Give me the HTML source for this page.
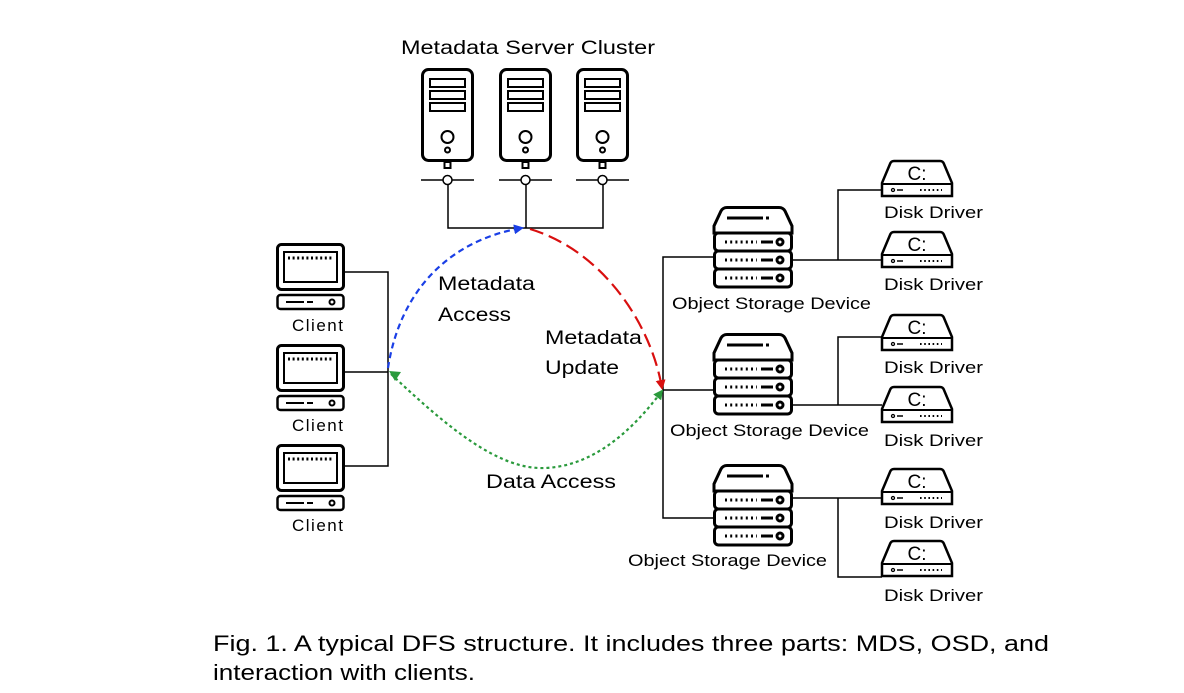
<!DOCTYPE html>
<html><head><meta charset="utf-8"><style>
body{margin:0;background:#fff;}
svg{display:block;font-family:"Liberation Sans",sans-serif;}
</style></head><body>
<svg width="1184" height="693" viewBox="0 0 1184 693" xmlns="http://www.w3.org/2000/svg">
<defs>
<g id="srv" fill="none" stroke="#000">
<rect x="1.5" y="1.5" width="50" height="91" rx="6" stroke-width="3"/>
<rect x="9" y="11" width="35" height="8" stroke-width="2"/>
<rect x="9" y="23" width="35" height="8" stroke-width="2"/>
<rect x="9" y="35" width="35" height="8" stroke-width="2"/>
<circle cx="26.5" cy="69" r="6" stroke-width="2"/>
<circle cx="26.5" cy="82" r="2.5" stroke-width="2"/>
<rect x="23.5" y="94" width="6" height="6" stroke-width="2"/>
<line x1="0" y1="112" x2="53" y2="112" stroke-width="1.5"/>
<circle cx="26.5" cy="112" r="4.5" fill="#fff" stroke-width="1.5"/>
</g>
<g id="cli" fill="none" stroke="#000">
<rect x="1.5" y="1.5" width="66" height="45" rx="4" stroke-width="3"/>
<rect x="8" y="9" width="53" height="30" stroke-width="2"/>
<line x1="12" y1="15" x2="58" y2="15" stroke-width="3" stroke-dasharray="2,2.6"/>
<rect x="1.5" y="52" width="66" height="14" rx="3" stroke-width="2.5"/>
<line x1="10" y1="59" x2="40" y2="59" stroke-width="2" stroke-dasharray="18,3,6,3"/>
<circle cx="56" cy="59" r="2.5" stroke-width="2"/>
</g>
<g id="osd" fill="none" stroke="#000">
<path d="M14,1.5 H66 Q70,1.5 72,5 L79,20 V27 H1 V20 L8,5 Q10,1.5 14,1.5 Z" stroke-width="3"/>
<line x1="14" y1="12" x2="56" y2="12" stroke-width="3" stroke-dasharray="36,3,8"/>
<rect x="1.5" y="27" width="77" height="18" rx="4" stroke-width="3"/>
<rect x="1.5" y="45" width="77" height="18" rx="4" stroke-width="3"/>
<rect x="1.5" y="63" width="77" height="18" rx="4" stroke-width="3"/>
<g stroke-width="3">
<line x1="12" y1="36" x2="44" y2="36" stroke-dasharray="2,3.2"/><line x1="48" y1="36" x2="60" y2="36"/><circle cx="67" cy="36" r="3"/>
<line x1="12" y1="54" x2="44" y2="54" stroke-dasharray="2,3.2"/><line x1="48" y1="54" x2="60" y2="54"/><circle cx="67" cy="54" r="3"/>
<line x1="12" y1="72" x2="44" y2="72" stroke-dasharray="2,3.2"/><line x1="48" y1="72" x2="60" y2="72"/><circle cx="67" cy="72" r="3"/>
</g>
</g>
<g id="disk">
<path d="M12,1 H58 Q61,1 62,4 L70,23 V36 H0 V23 L8,4 Q9,1 12,1 Z" fill="none" stroke="#000" stroke-width="2.5"/>
<line x1="0" y1="24" x2="70" y2="24" stroke="#000" stroke-width="2"/>
<text x="35" y="20" font-size="19" text-anchor="middle">C:</text>
<circle cx="11" cy="30" r="1.5" fill="none" stroke="#000" stroke-width="1.3"/>
<line x1="15" y1="30" x2="21" y2="30" stroke="#000" stroke-width="1.5"/>
<line x1="38" y1="30" x2="60" y2="30" stroke="#000" stroke-width="2" stroke-dasharray="1.6,2.6"/>
</g>
<marker id="ab" markerWidth="10" markerHeight="10" refX="8" refY="5" orient="auto" markerUnits="userSpaceOnUse"><path d="M0,0 L10,5 L0,10 Z" fill="#1a3fe6"/></marker>
<marker id="ar" markerWidth="10" markerHeight="10" refX="8" refY="5" orient="auto" markerUnits="userSpaceOnUse"><path d="M0,0 L10,5 L0,10 Z" fill="#d90f0f"/></marker>
<marker id="ag" markerWidth="10" markerHeight="10" refX="8" refY="5" orient="auto" markerUnits="userSpaceOnUse"><path d="M0,0 L10,5 L0,10 Z" fill="#2a9a3c"/></marker>
</defs>

<text x="401" y="54" font-size="19" textLength="254" lengthAdjust="spacingAndGlyphs">Metadata Server Cluster</text>
<use href="#srv" x="421" y="68"/>
<use href="#srv" x="499" y="68"/>
<use href="#srv" x="576" y="68"/>
<path d="M448,185 V228 H603 V185 M526,185 V228" fill="none" stroke="#000" stroke-width="1.5"/>

<use href="#cli" x="276" y="243"/>
<use href="#cli" x="276" y="344"/>
<use href="#cli" x="276" y="444"/>
<g font-size="17" lengthAdjust="spacingAndGlyphs">
<text x="292" y="331" textLength="51">Client</text>
<text x="292" y="431" textLength="51">Client</text>
<text x="292" y="531" textLength="51">Client</text>
</g>
<path d="M345,272 H388 V466 H345 M345,372 H388" fill="none" stroke="#000" stroke-width="1.5"/>

<use href="#osd" x="713" y="206"/>
<use href="#osd" x="713" y="333"/>
<use href="#osd" x="713" y="464"/>
<g font-size="17">
<text x="672" y="309" textLength="199" lengthAdjust="spacingAndGlyphs">Object Storage Device</text>
<text x="670" y="436" textLength="199" lengthAdjust="spacingAndGlyphs">Object Storage Device</text>
<text x="628" y="566" textLength="199" lengthAdjust="spacingAndGlyphs">Object Storage Device</text>
</g>
<path d="M713,257 H663 V518 H713 M663,390 H713" fill="none" stroke="#000" stroke-width="1.5"/>
<path d="M793,260 H838 M882,190 H838 V260 H882 M793,405 H838 M882,337 H838 V405 H882 M793,498 H838 M882,498 H838 V577 H882" fill="none" stroke="#000" stroke-width="1.5"/>

<use href="#disk" x="882" y="160"/>
<use href="#disk" x="882" y="231"/>
<use href="#disk" x="882" y="314"/>
<use href="#disk" x="882" y="386"/>
<use href="#disk" x="882" y="468"/>
<use href="#disk" x="882" y="540"/>
<g font-size="17">
<text x="884" y="218" textLength="99" lengthAdjust="spacingAndGlyphs">Disk Driver</text>
<text x="884" y="290" textLength="99" lengthAdjust="spacingAndGlyphs">Disk Driver</text>
<text x="884" y="373" textLength="99" lengthAdjust="spacingAndGlyphs">Disk Driver</text>
<text x="884" y="446" textLength="99" lengthAdjust="spacingAndGlyphs">Disk Driver</text>
<text x="884" y="528" textLength="99" lengthAdjust="spacingAndGlyphs">Disk Driver</text>
<text x="884" y="601" textLength="99" lengthAdjust="spacingAndGlyphs">Disk Driver</text>
</g>

<path d="M388,368 C400,290 450,240 522,228" fill="none" stroke="#1a3fe6" stroke-width="2.2" stroke-dasharray="6,4" marker-end="url(#ab)"/>
<path d="M530,229 C600,250 650,320 662,388" fill="none" stroke="#d90f0f" stroke-width="2.2" stroke-dasharray="14,6" marker-end="url(#ar)"/>
<path d="M391,374 C450,430 500,470 545,468 C600,466 640,420 662,391" fill="none" stroke="#2a9a3c" stroke-width="2.2" stroke-dasharray="3,3" marker-end="url(#ag)"/>
<path d="M389,371 l12,1 l-6,9 Z" fill="#2a9a3c"/>

<g font-size="19">
<text x="438" y="290" textLength="97" lengthAdjust="spacingAndGlyphs">Metadata</text>
<text x="438" y="321" textLength="73" lengthAdjust="spacingAndGlyphs">Access</text>
<text x="545" y="344" textLength="97" lengthAdjust="spacingAndGlyphs">Metadata</text>
<text x="545" y="374" textLength="74" lengthAdjust="spacingAndGlyphs">Update</text>
<text x="486" y="488" textLength="130" lengthAdjust="spacingAndGlyphs">Data Access</text>
</g>
<g font-size="22.5">
<text x="213" y="651" textLength="836" lengthAdjust="spacingAndGlyphs">Fig. 1. A typical DFS structure. It includes three parts: MDS, OSD, and</text>
<text x="213" y="680" textLength="262" lengthAdjust="spacingAndGlyphs">interaction with clients.</text>
</g>
</svg>
</body></html>
